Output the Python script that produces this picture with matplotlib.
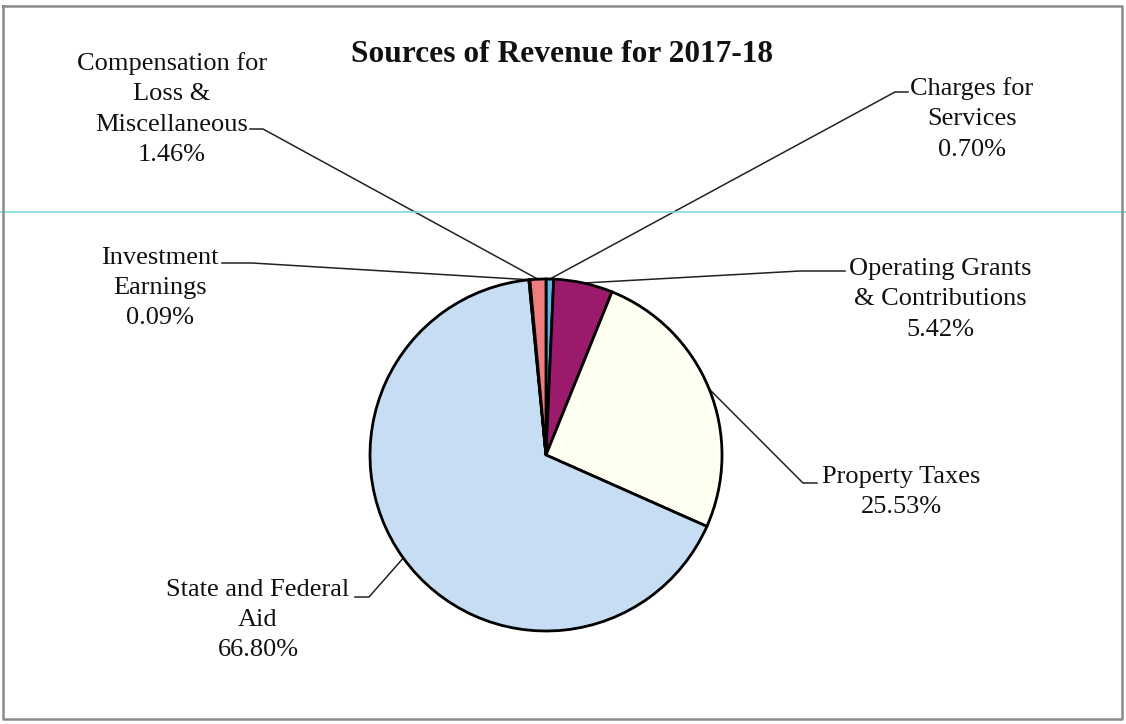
import numpy as np
import matplotlib.pyplot as plt

# data, clockwise from 12 o'clock
names = ['Charges for\nServices', 'Operating Grants\n& Contributions', 'Property Taxes',
         'State and Federal\nAid', 'Investment\nEarnings', 'Compensation for\nLoss &\nMiscellaneous']
shares = [0.70, 5.42, 25.53, 66.80, 0.09, 1.46]
colors = ['#62b6e6', '#9c1a6c', '#fffff2', '#c6ddf4', '#9acd6e', '#ee7d7d']

plt.rcParams['font.family'] = ['Liberation Serif', 'DejaVu Serif']

W, H = 1126, 724
fig = plt.figure(figsize=(W / 100, H / 100), dpi=100)
ax = fig.add_axes([0, 0, 1, 1])

cx, cy, R = 546, 455, 176
wedges, _ = ax.pie(shares, colors=colors, startangle=90, counterclock=False,
                   center=(cx, H - cy), radius=R, frame=True,
                   wedgeprops=dict(edgecolor='black', linewidth=2))
ax.set_xlim(0, W)
ax.set_ylim(0, H)
ax.set_aspect('equal')
ax.axis('off')

def Y(y):
    return H - y

# label block centre, text-side line start, elbow  (pixel coords, y down)
layout = [
    ((972, 119), (908, 92), (895, 92)),
    ((940, 299), (845, 271), (800, 271)),
    ((901, 492), (817, 483), (803, 483)),
    ((258, 620), (355, 597), (369, 597)),
    ((160, 288), (222, 263), (252, 263)),
    ((172, 109), (250, 129), (263, 129)),
]

for w, name, pct, (tpos, p0, p1) in zip(wedges, names, shares, layout):
    ang = np.deg2rad((w.theta1 + w.theta2) / 2)
    ex = cx + R * np.cos(ang)
    ey = H - cy + R * np.sin(ang)
    ax.plot([p0[0], p1[0], ex], [Y(p0[1]), Y(p1[1]), ey], color='#222222', lw=1.1, zorder=0)
    ax.text(tpos[0], Y(tpos[1]), f'{name}\n{pct:.2f}%', ha='center', va='center',
            multialignment='center', fontsize=19, linespacing=1.5, color='#111111')

ax.text(562, Y(55), 'Sources of Revenue for 2017-18', ha='center', va='center',
        fontsize=22.6, fontweight='bold', color='#111111')

# frame and scan line
ax.plot([3, 1122, 1122, 3, 3], [Y(6), Y(6), Y(719), Y(719), Y(6)], color='#8a8a8a', lw=1.8)
ax.plot([0, W], [Y(212), Y(212)], color='#7fd9dc', lw=1.2, zorder=0)

fig.savefig('out.png', dpi=100)
